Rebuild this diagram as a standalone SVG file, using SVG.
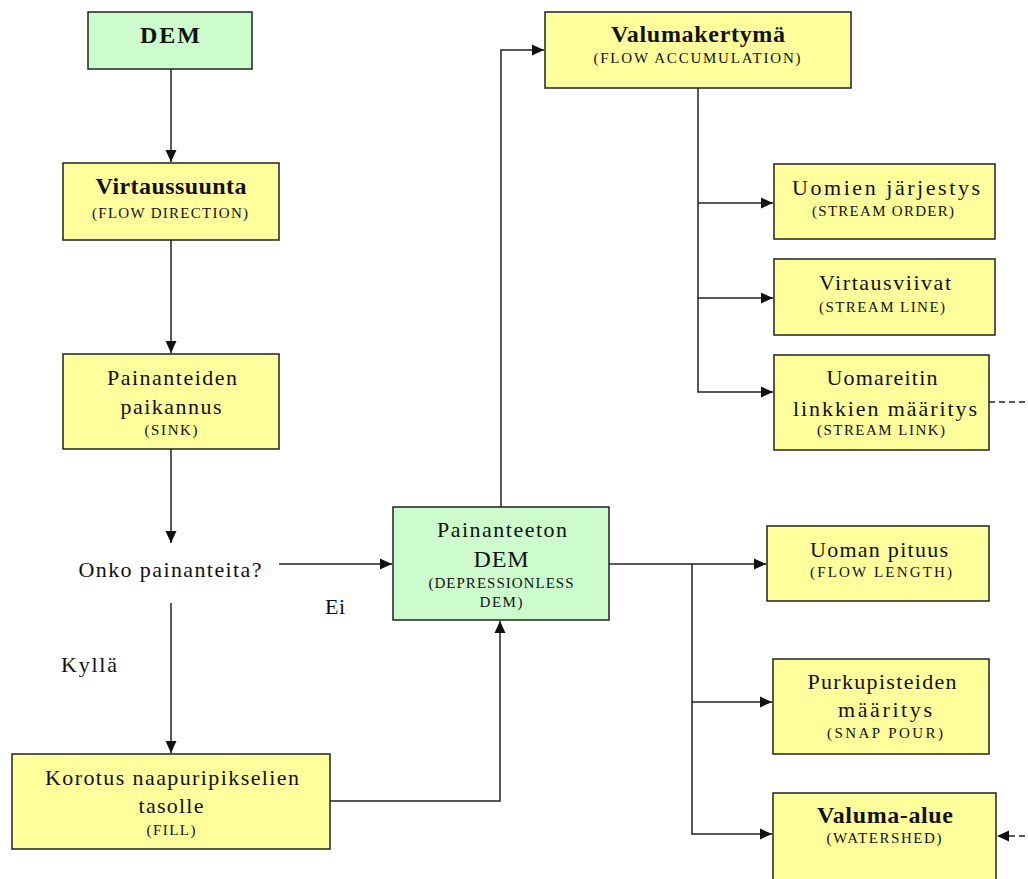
<svg xmlns="http://www.w3.org/2000/svg" width="1028" height="879" viewBox="0 0 1028 879">
<style>
.box{stroke:#222;stroke-width:1.5}
.y{fill:#ffff9c}
.g{fill:#ccfccc}
text{font-family:"Liberation Serif","Times New Roman",serif;fill:#111;text-anchor:middle}
.b{font-size:24px;font-weight:bold}
.r{font-size:22px}
.s{font-size:15px}
.c{fill:none;stroke:#222;stroke-width:1.5}
.d{fill:none;stroke:#222;stroke-width:1.5;stroke-dasharray:6,4}
</style>
<defs>
<marker id="a" markerUnits="userSpaceOnUse" markerWidth="13" markerHeight="12" refX="12" refY="6" orient="auto">
<path d="M0,0.5 L12,6 L0,11.5 Z" fill="#111"/>
</marker>
</defs>
<rect width="1028" height="879" fill="#fff"/>
<g id="connectors">
<path class="c" d="M171,69 V162" marker-end="url(#a)"/>
<path class="c" d="M171,240 V353" marker-end="url(#a)"/>
<path class="c" d="M171,449 V543" marker-end="url(#a)"/>
<path class="c" d="M171,603 V753" marker-end="url(#a)"/>
<path class="c" d="M279,564 H392" marker-end="url(#a)"/>
<path class="c" d="M330,801 H500 V621" marker-end="url(#a)"/>
<path class="c" d="M501,507 V50 H544" marker-end="url(#a)"/>
<path class="c" d="M698,88 V392 H773" marker-end="url(#a)"/>
<path class="c" d="M698,203 H773" marker-end="url(#a)"/>
<path class="c" d="M698,298 H773" marker-end="url(#a)"/>
<path class="c" d="M609,564 H766" marker-end="url(#a)"/>
<path class="c" d="M692,564 V834 H772" marker-end="url(#a)"/>
<path class="c" d="M692,702 H772" marker-end="url(#a)"/>
<path class="d" d="M989,402 H1040 V836 H997" marker-end="url(#a)"/>
</g>
<g id="dem">
<rect class="box g" x="88" y="12" width="164" height="57"/>
<text class="b" x="170" y="43" textLength="60" lengthAdjust="spacing">DEM</text>
</g>
<g id="virtaussuunta">
<rect class="box y" x="63" y="163" width="216" height="77"/>
<text class="b" x="171" y="194" textLength="151" lengthAdjust="spacing">Virtaussuunta</text>
<text class="s" x="170" y="218" textLength="156" lengthAdjust="spacing">(FLOW DIRECTION)</text>
</g>
<g id="painanteiden">
<rect class="box y" x="63" y="354" width="216" height="95"/>
<text class="r" x="172" y="385" textLength="130" lengthAdjust="spacing">Painanteiden</text>
<text class="r" x="171" y="414" textLength="101" lengthAdjust="spacing">paikannus</text>
<text class="s" x="171" y="435" textLength="53" lengthAdjust="spacing">(SINK)</text>
</g>
<g id="onko">
<text class="r" x="170" y="577" textLength="183" lengthAdjust="spacing">Onko painanteita?</text>
</g>
<g id="labels">
<text class="r" x="89" y="672" textLength="56" lengthAdjust="spacing">Kyllä</text>
<text class="r" x="335" y="614" textLength="20" lengthAdjust="spacing">Ei</text>
</g>
<g id="korotus">
<rect class="box y" x="12" y="754" width="318" height="95"/>
<text class="r" x="172" y="785" textLength="254" lengthAdjust="spacing">Korotus naapuripikselien</text>
<text class="r" x="171" y="813" textLength="65" lengthAdjust="spacing">tasolle</text>
<text class="s" x="171" y="835" textLength="49" lengthAdjust="spacing">(FILL)</text>
</g>
<g id="painanteeton">
<rect class="box g" x="393" y="507" width="216" height="113"/>
<text class="r" x="502" y="537" textLength="130" lengthAdjust="spacing">Painanteeton</text>
<text class="r" x="501" y="567" style="font-size:24px" textLength="55" lengthAdjust="spacing">DEM</text>
<text class="s" x="501" y="588" textLength="145" lengthAdjust="spacing">(DEPRESSIONLESS</text>
<text class="s" x="501" y="607" textLength="43" lengthAdjust="spacing">DEM)</text>
</g>
<g id="valumakertyma">
<rect class="box y" x="545" y="12" width="306" height="76"/>
<text class="b" x="698" y="42" textLength="174" lengthAdjust="spacing">Valumakertymä</text>
<text class="s" x="697" y="63" textLength="207" lengthAdjust="spacing">(FLOW ACCUMULATION)</text>
</g>
<g id="uomien">
<rect class="box y" x="774" y="164" width="221" height="75"/>
<text class="r" x="886" y="195" textLength="188" lengthAdjust="spacing">Uomien järjestys</text>
<text class="s" x="883" y="216" textLength="142" lengthAdjust="spacing">(STREAM ORDER)</text>
</g>
<g id="virtausviivat">
<rect class="box y" x="774" y="259" width="221" height="76"/>
<text class="r" x="885" y="290" textLength="132" lengthAdjust="spacing">Virtausviivat</text>
<text class="s" x="882" y="312" textLength="126" lengthAdjust="spacing">(STREAM LINE)</text>
</g>
<g id="uomareitin">
<rect class="box y" x="774" y="355" width="215" height="95"/>
<text class="r" x="882" y="385" textLength="111" lengthAdjust="spacing">Uomareitin</text>
<text class="r" x="885" y="416" textLength="184" lengthAdjust="spacing">linkkien määritys</text>
<text class="s" x="881" y="435" textLength="128" lengthAdjust="spacing">(STREAM LINK)</text>
</g>
<g id="uoman-pituus">
<rect class="box y" x="767" y="526" width="222" height="75"/>
<text class="r" x="879" y="557" textLength="138" lengthAdjust="spacing">Uoman pituus</text>
<text class="s" x="881" y="577" textLength="142" lengthAdjust="spacing">(FLOW LENGTH)</text>
</g>
<g id="purkupisteiden">
<rect class="box y" x="773" y="659" width="216" height="95"/>
<text class="r" x="882" y="689" textLength="149" lengthAdjust="spacing">Purkupisteiden</text>
<text class="r" x="885" y="717" textLength="94" lengthAdjust="spacing">määritys</text>
<text class="s" x="885" y="738" textLength="116" lengthAdjust="spacing">(SNAP POUR)</text>
</g>
<g id="valuma-alue">
<rect class="box y" x="773" y="793" width="223" height="100"/>
<text class="b" x="885" y="823" textLength="136" lengthAdjust="spacing">Valuma-alue</text>
<text class="s" x="884" y="843" textLength="115" lengthAdjust="spacing">(WATERSHED)</text>
</g>
</svg>
